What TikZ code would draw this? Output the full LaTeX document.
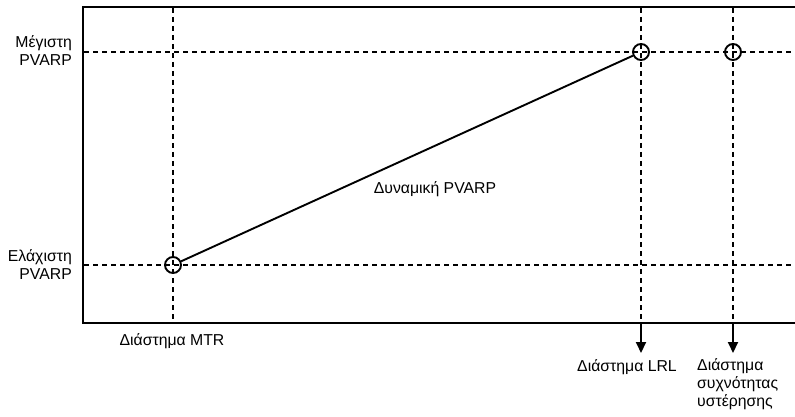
\documentclass[tikz,border=0pt]{standalone}
\usepackage{fontspec}
\setmainfont{Liberation Sans}
\usetikzlibrary{arrows.meta}
\begin{document}
\begin{tikzpicture}[x=1pt,y=-1pt,
  frameline/.style={line width=2.6pt},
  guide/.style={line width=1.8pt,dash pattern=on 5pt off 4pt},
  pt/.style={circle,draw,line width=1.9pt,minimum size=16pt,inner sep=0pt},
  lbl/.style={font=\fontsize{15.8}{18}\selectfont,inner sep=0pt},
  downarrow/.style={line width=2pt,-{Triangle[length=11pt,width=10pt]}}]
\useasboundingbox (0,0) rectangle (795,417);
% frame
\coordinate (tl) at (83,7);
\coordinate (tr) at (795,7);
\coordinate (bl) at (83,323);
\coordinate (br) at (795,323);
\draw[frameline] (tr) -- (tl) -- (bl) -- (br);
% guides
\draw[guide] (173,8) -- (173,322);
\draw[guide] (641,8) -- (641,322);
\draw[guide] (733,8) -- (733,322);
\draw[guide] (84,52) -- (795,52);
\draw[guide] (84,265) -- (795,265);
% points
\node[pt] (pmin) at (173,265) {};
\node[pt] (pmax) at (641,52) {};
\node[pt] (phys) at (733,52) {};
\draw[line width=1.9pt] (pmin) -- (pmax);
% arrows
\coordinate (lrltop) at (641,324);
\coordinate (lrlend) at (641,353);
\coordinate (hystop) at (733,324);
\coordinate (hysend) at (733,353);
\draw[downarrow] (lrltop) -- (lrlend);
\draw[downarrow] (hystop) -- (hysend);
% labels
\node[lbl,anchor=east,align=right] (lmax) at (72,51) {Μέγιστη\\PVARP};
\node[lbl,anchor=east,align=right] (lmin) at (72,265) {Ελάχιστη\\PVARP};
\node[lbl] (lmtr) at (172,341) {Διάστημα MTR};
\node[lbl] (llrl) at (627,367) {Διάστημα LRL};
\node[lbl,anchor=north west,align=left] (lhys) at (697,358) {Διάστημα\\συχνότητας\\υστέρησης};
\node[lbl] (ldyn) at (435,189) {Δυναμική PVARP};
\end{tikzpicture}
\end{document}
